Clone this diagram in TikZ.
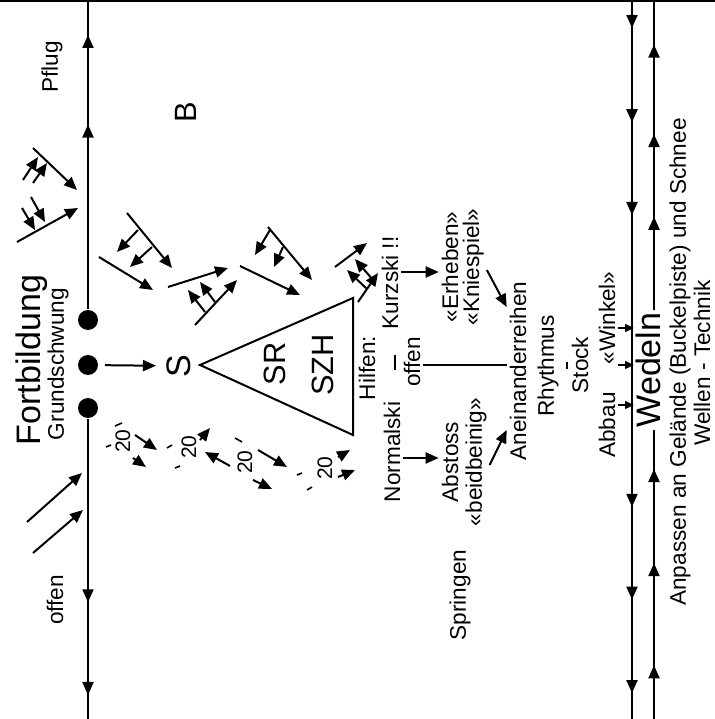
\documentclass[tikz,border=0pt]{standalone}
\usepackage{fontspec}
\setmainfont{Liberation Sans}
\usetikzlibrary{arrows.meta}
\usetikzlibrary{positioning,decorations.markings}
\tikzset{
	txt/.style={font=\fontsize{11.3}{13}\selectfont, inner sep=1pt},
	bigtxt/.style={font=\fontsize{17}{20}\selectfont, inner sep=1pt},
	midtxt/.style={font=\fontsize{15.4}{18}\selectfont, inner sep=1pt},
	smalltxt/.style={font=\fontsize{10.5}{12}\selectfont, inner sep=0pt},
	dot/.style={circle, fill=black, minimum size=10pt, inner sep=0pt},
	tick/.style={line width=0.8pt},
	tipat/.style={postaction={decorate, decoration={markings,
		mark=at position #1 with {\arrow{Triangle[length=6.5pt,width=5.5pt]}}}}},
}
\begin{document}
\begin{tikzpicture}[rotate=90, transform shape, x=0.5pt, y=0.5pt,
	line width=1pt, >={Triangle[length=6.5pt,width=5.5pt]}]
	\useasboundingbox (0,-715) rectangle (719,0);
	\draw[line width=0.6pt] (718,0) -- (718,-715);
	
	\node[bigtxt] (FORT) at (359,-32) {Fortbildung};
	\node[txt] (GRUND) at (355,-58) {Grundschwung};
	\node[txt] (PFLUG) at (652,-52) {Pflug};
	\node[txt] (OFFL) at (119,-55) {offen};
	\node[midtxt] (B) at (607,-186) {B};
	
	\node[dot] (D1) at (399,-88) {};
	\node[dot] (D2) at (354,-88) {};
	\node[dot] (D3) at (311,-88) {};
	\coordinate (LR) at (719,-88);
	\coordinate (LL) at (0,-88);
	
	\node[bigtxt] (S) at (353,-179) {S};
	\coordinate (APEX) at (354,-200);
	\coordinate (BASER) at (421,-353);
	\coordinate (BASEL) at (284,-353);
	\draw (APEX) -- (BASER) -- (BASEL) -- cycle;
	\node[midtxt] (SR) at (355,-275) {SR};
	\node[midtxt] (SZH) at (354,-323) {SZH};
	
	\node[txt] (HILF) at (351,-367) {Hilfen:};
	\node[txt] (KURZ) at (436,-390) {Kurzski !!};
	\node[txt] (NORM) at (267,-392) {Normalski};
	\node[txt] (OFFR) at (357,-412) {offen};
	
	\node[txt] (ERH) at (452,-450) {«Erheben»};
	\node[txt, below=6pt of ERH, anchor=center] (KNIE) {«Kniespiel»};
	\node[txt] (ABST) at (257,-450) {Abstoss};
	\node[txt, below=7.4pt of ABST, anchor=center] (BEID) {«beidbeinig»};
	\node[txt] (SPRING) at (124,-460) {Springen};
	\node[txt] (ANEIN) at (348,-518) {Aneinanderreihen};
	\node[txt] (RHYTH) at (353,-548) {Rhythmus};
	\node[txt] (STOCK) at (354,-580) {Stock};
	\node[txt] (ABBAU) at (294,-607) {Abbau};
	\node[txt] (WINK) at (401,-607) {«Winkel»};
	\node[bigtxt] (WED) at (349,-648) {Wedeln};
	\node[txt] (ANP) at (357,-680) {Anpassen an Gelände (Buckelpiste) und Schnee};
	\node[txt] (WELL) at (356,-702) {Wellen - Technik};
	
	% Grundlinie
	\draw[tipat=0.597, tipat=0.887] (D1) -- (LR);
	\draw[tipat=0.611, tipat=0.92] (D3) -- (LL);
	\draw[->, shorten <=3pt, shorten >=4pt] (D2) -- (S);
	
	% Wedeln-Linien
	\coordinate (AR) at (719,-632);
	\coordinate (AL) at (0,-632);
	\coordinate (BR) at (719,-654);
	\coordinate (BL) at (0,-654);
	\draw[tipat=0.039, tipat=0.170, tipat=0.299, tipat=0.705, tipat=0.834, tipat=0.964] (AR) -- (AL);
	\draw[tipat=0.186, tipat=0.54, tipat=0.866] (BL) -- (BL -| WED.west);
	\draw[tipat=0.30, tipat=0.567, tipat=0.856] (BR -| WED.east) -- (BR);
	\foreach \u in {391,354,314}
		\draw[->, line width=0.7pt, >={Triangle[length=4.5pt,width=4pt]}] (\u,-618) -- (\u,-634);
	
	% Verbindungen
	\draw[->] (KURZ.south -| 447,0) -- (ERH.north -| 447,0);
	\draw[->] (NORM.south -| 261,0) -- (ABST.north -| 261,0);
	\draw (OFFR.south -| 354,0) -- (ANEIN.north -| 354,0);
	\draw[->] (KNIE.south -| 449,0) -- (ANEIN.north -| 412,0);
	\draw[->] (BEID.south -| 254,0) -- (ANEIN.north -| 289,0);
	\draw[tick] (349,-395) -- (364,-395);
	\draw[tick] (350,-567) -- (357,-567);
	
	% Schwungpfeile
	\foreach \xa/\ya/\xb/\yb in {571/-33/529/-77, 539/-23/562/-38, 536/-33/556/-47,
		477/-17/511/-78, 511/-22/489/-35, 522/-31/497/-45,
		506/-127/451/-172, 489/-138/467/-117, 472/-152/452/-130,
		462/-99/429/-153, 432/-168/451/-228,
		394/-195/439/-237, 407/-205/429/-188, 417/-215/437/-200,
		492/-268/439/-312, 489/-270/464/-255, 472/-283/452/-274,
		453/-240/424/-300, 452/-335/476/-367,
		417/-358/446/-378, 430/-367/449/-347, 439/-373/460/-355,
		197/-27/246/-82, 166/-33/209/-83,
		284/-135/269/-157, 261/-133/252/-146, 279/-200/291/-210,
		253/-230/267/-205, 269/-258/252/-287, 239/-253/230/-272,
		262/-338/269/-350, 242/-338/249/-355}
		\draw[->] (\xa,\ya) -- (\xb,\yb);
	
	% Winkel 20
	\node[smalltxt] (W1) at (278,-123) {20};
	\node[smalltxt] (W2) at (272,-189) {20};
	\node[smalltxt] (W3) at (257,-245) {20};
	\node[smalltxt] (W4) at (251,-325) {20};
	\foreach \xa/\ya/\xb/\yb in {293/-115/296/-122, 272/-106/274/-111,
		271/-167/274/-172, 251/-175/253/-180, 281/-235/277/-242,
		244/-297/246/-302, 229/-307/232/-312}
		\draw[tick] (\xa,\ya) -- (\xb,\yb);
	
\end{tikzpicture}
\end{document}
